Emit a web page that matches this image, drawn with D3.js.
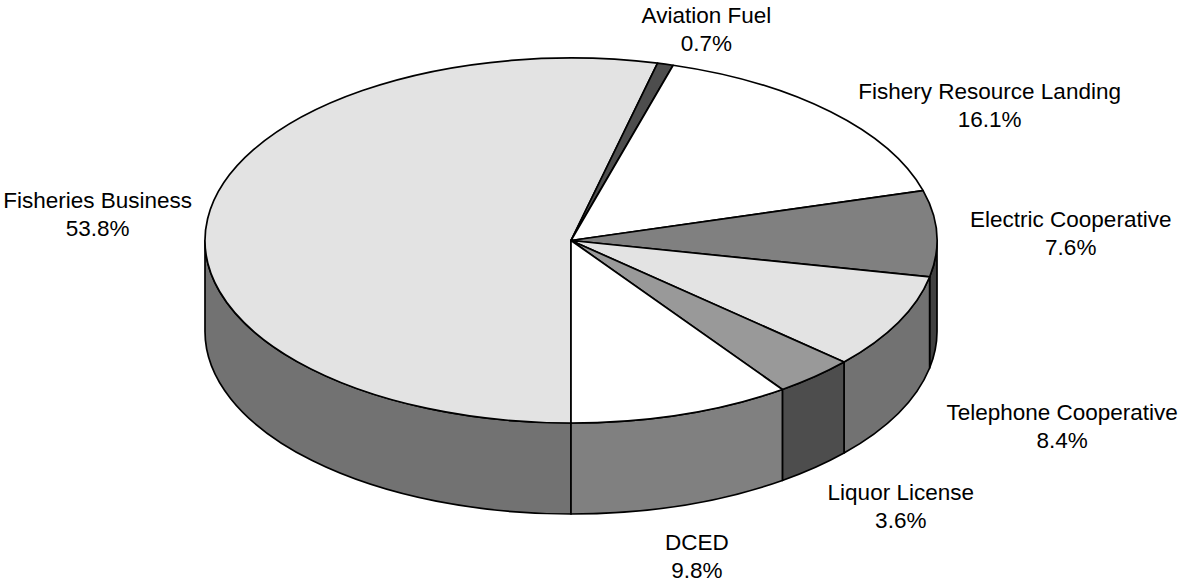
<!DOCTYPE html>
<html>
<head>
<meta charset="utf-8">
<script src="https://cdn.jsdelivr.net/npm/d3@7"></script>
<style>
  body { margin: 0; background: #fff; }
  svg { display: block; }
  .label { font-family: "Liberation Sans", Arial, sans-serif; font-size: 22.5px; fill: #000; }
</style>
</head>
<body>
<svg id="chart" width="1182" height="583"></svg>
<script>
// data
var categories = ["Fisheries Business", "Aviation Fuel", "Fishery Resource Landing",
  "Electric Cooperative", "Telephone Cooperative", "Liquor License", "DCED"];
var shares = [53.8, 0.7, 16.1, 7.6, 8.4, 3.6, 9.8];

// styles
var topColors = ["#e3e3e3", "#4d4d4d", "#ffffff", "#808080", "#e3e3e3", "#999999", "#ffffff"];
// label block centre, offset from the rim point at the slice middle
var labelOffsets = [[-110, -5], [41, -35], [159, -7], [134, -1], [164, 13], [86, 38], [15, 51]];

var cx = 571, cy = 240.5, rx = 366, ry = 182.5, depth = 91;
var lineGap = 28;

var svg = d3.select("#chart");

var pie = d3.pie().sort(null).value(d => d).startAngle(Math.PI).endAngle(3 * Math.PI);
var arcs = pie(shares);
arcs.forEach((a, i) => { a.name = categories[i]; a.color = topColors[i]; });

function px(a) { return cx + rx * Math.sin(a); }
function py(a) { return cy - ry * Math.cos(a); }

function topPath(d) {
  var large = (d.endAngle - d.startAngle) > Math.PI ? 1 : 0;
  return "M" + cx + "," + cy +
    "L" + px(d.startAngle) + "," + py(d.startAngle) +
    "A" + rx + "," + ry + " 0 " + large + " 1 " + px(d.endAngle) + "," + py(d.endAngle) + "Z";
}

// visible front wall pieces
var walls = [];
arcs.forEach(d => {
  [0, 2 * Math.PI].forEach(k => {
    var s = Math.max(d.startAngle, Math.PI / 2 + k);
    var e = Math.min(d.endAngle, 3 * Math.PI / 2 + k);
    if (e > s) walls.push({ s: s, e: e, src: d });
  });
});

function wallPath(w) {
  return "M" + px(w.s) + "," + py(w.s) +
    "A" + rx + "," + ry + " 0 0 1 " + px(w.e) + "," + py(w.e) +
    "L" + px(w.e) + "," + (py(w.e) + depth) +
    "A" + rx + "," + ry + " 0 0 0 " + px(w.s) + "," + (py(w.s) + depth) + "Z";
}

function half(c) {
  var r = d3.rgb(c);
  return d3.rgb(r.r * 0.5, r.g * 0.5, r.b * 0.5).toString();
}

var layerSides = svg.append("g");
var layerTops = svg.append("g");
var layerLabels = svg.append("g");

layerSides.selectAll(".side")
  .data(walls)
  .enter()
  .append("path")
  .attr("class", "side")
  .attr("d", wallPath)
  .style("fill", w => half(w.src.color))
  .style("stroke", "#000")
  .style("stroke-width", 1.7)
  .style("stroke-linejoin", "round");

layerTops.selectAll(".slice")
  .data(arcs)
  .enter()
  .append("path")
  .attr("class", "slice")
  .attr("d", topPath)
  .style("fill", d => d.color)
  .style("stroke", "#000")
  .style("stroke-width", 1.7)
  .style("stroke-linejoin", "round");

var fmt = d3.format(".1f");

var lab = layerLabels.selectAll(".label")
  .data(arcs)
  .enter()
  .append("text")
  .attr("class", "label")
  .attr("text-anchor", "middle")
  .attr("transform", (d, i) => {
    var m = (d.startAngle + d.endAngle) / 2;
    var x = px(m), y = py(m);
    if (Math.cos(m) < 0) y += depth;
    var o = labelOffsets[i];
    // block centre -> first baseline
    return "translate(" + (x + o[0]) + "," + (y + o[1] - 6) + ")";
  });

lab.append("tspan").attr("x", 0).attr("y", 0).text(d => d.name);
lab.append("tspan").attr("x", 0).attr("y", lineGap).text(d => fmt(d.data) + "%");
</script>
</body>
</html>
